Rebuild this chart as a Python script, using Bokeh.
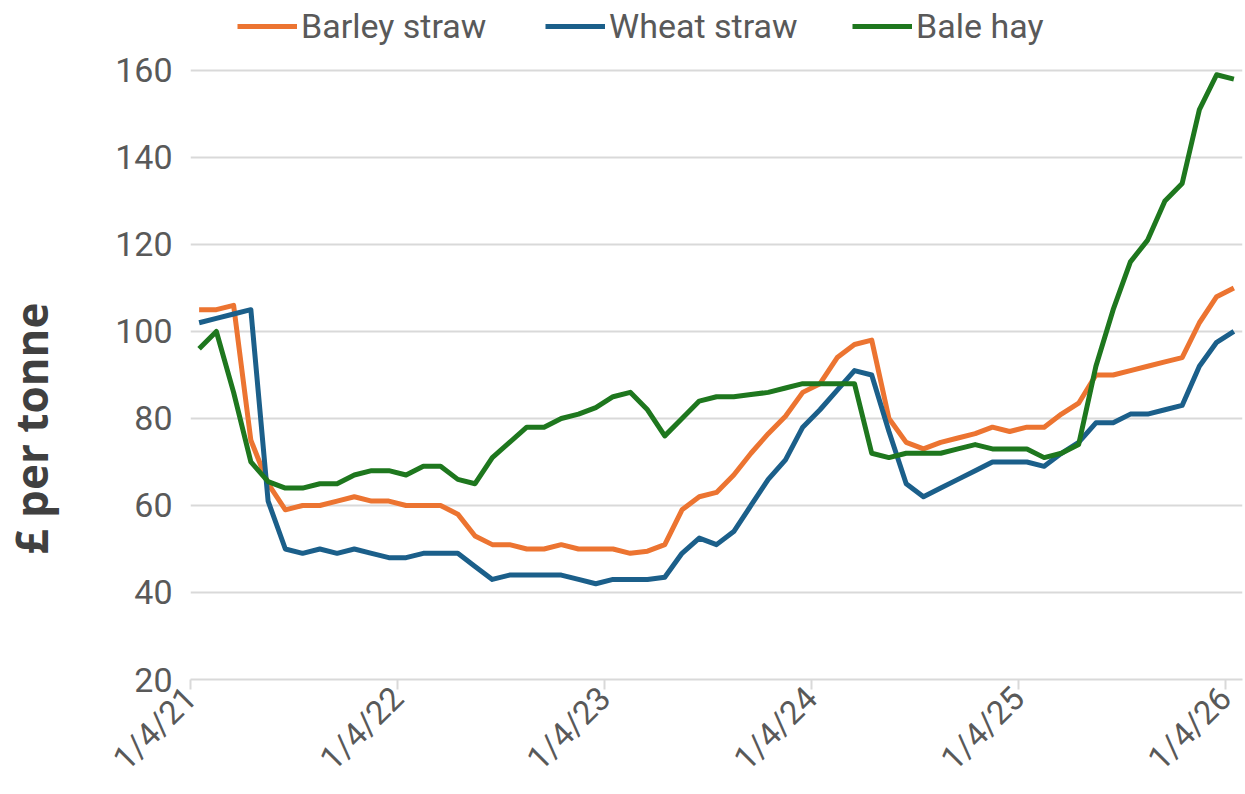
import math
from bokeh.plotting import figure
from bokeh.models import FixedTicker, Range1d, Legend, LegendItem, Title
from bokeh.embed import file_html
from bokeh.resources import INLINE

# Monthly observations, April 2021 .. April 2026
months = []
for yr in range(2021, 2027):
    for mo in range(1, 13):
        if (yr == 2021 and mo < 4) or (yr == 2026 and mo > 4):
            continue
        months.append(f"{yr}-{mo:02d}")

barley = [105, 105, 106, 75, 65, 59, 60, 60, 61, 62, 61, 61,
          60, 60, 60, 58, 53, 51, 51, 50, 50, 51, 50, 50,
          50, 49, 49.5, 51, 59, 62, 63, 67, 72, 76.5, 80.5, 86,
          88, 94, 97, 98, 80, 74.5, 73, 74.5, 75.5, 76.5, 78, 77,
          78, 78, 81, 83.5, 90, 90, 91, 92, 93, 94, 102, 108, 110]

wheat = [102, 103, 104, 105, 61, 50, 49, 50, 49, 50, 49, 48,
         48, 49, 49, 49, 46, 43, 44, 44, 44, 44, 43, 42,
         43, 43, 43, 43.5, 49, 52.5, 51, 54, 60, 66, 70.5, 78,
         82, 86.5, 91, 90, 77, 65, 62, 64, 66, 68, 70, 70,
         70, 69, 72, 74.5, 79, 79, 81, 81, 82, 83, 92, 97.5, 100]

hay = [96, 100, 86, 70, 65.5, 64, 64, 65, 65, 67, 68, 68,
       67, 69, 69, 66, 65, 71, 74.5, 78, 78, 80, 81, 82.5,
       85, 86, 82, 76, 80, 84, 85, 85, 85.5, 86, 87, 88,
       88, 88, 88, 72, 71, 72, 72, 72, 73, 74, 73, 73,
       73, 71, 72, 74, 92, 105, 116, 121, 130, 134, 151, 159, 158]

series_names = ["Barley straw", "Wheat straw", "Bale hay"]
series_colors = ["#EC7431", "#1B5F8A", "#1E771E"]

tick_months = [0, 12, 24, 36, 48, 60]
tick_labels = ["1/4/21", "1/4/22", "1/4/23", "1/4/24", "1/4/25", "1/4/26"]
y_ticks = [20, 40, 60, 80, 100, 120, 140, 160]

# x position: month index, centred within its month slot
x = [i + 0.5 for i in range(len(months))]

p = figure(width=1244, height=794,
           x_range=Range1d(0, len(months)), y_range=Range1d(20, 176.07),
           output_backend="svg", toolbar_location=None,
           min_border_left=0, min_border_right=2,
           min_border_top=0, min_border_bottom=114)
p.outline_line_color = None
p.background_fill_color = "white"
p.border_fill_color = "white"

p.xgrid.visible = False
p.ygrid.grid_line_color = "#D9D9D9"
p.ygrid.grid_line_width = 2

p.yaxis.ticker = FixedTicker(ticks=y_ticks)
p.yaxis.axis_line_color = None
p.yaxis.major_tick_line_color = None
p.yaxis.minor_tick_line_color = None
p.yaxis.major_label_text_font = "Roboto"
p.yaxis.major_label_text_font_size = "34px"
p.yaxis.major_label_text_color = "#595959"
p.yaxis.major_label_standoff = 12
# blank axis label used only as horizontal spacer before the title
p.yaxis.axis_label = " "
p.yaxis.axis_label_text_font_size = "10px"
p.yaxis.axis_label_standoff = 36

p.xaxis.ticker = FixedTicker(ticks=tick_months)
p.xaxis.major_label_overrides = {t: l for t, l in zip(tick_months, tick_labels)}
p.xaxis.axis_line_color = "#D9D9D9"
p.xaxis.axis_line_width = 2
p.xaxis.major_tick_line_color = "#D9D9D9"
p.xaxis.major_tick_line_width = 2
p.xaxis.major_tick_out = 10
p.xaxis.major_tick_in = 0
p.xaxis.minor_tick_line_color = None
p.xaxis.major_label_orientation = math.pi / 4
p.xaxis.major_label_text_font = "Roboto"
p.xaxis.major_label_text_font_size = "33px"
p.xaxis.major_label_text_color = "#595959"
p.xaxis.major_label_standoff = 3

renderers = []
for vals, col in zip([barley, wheat, hay], series_colors):
    r = p.line(x, vals, line_color=col, line_width=5, line_join="round")
    renderers.append(r)

legend_x = [47, 355, 662]
for name, r, lx in zip(series_names, renderers, legend_x):
    leg = Legend(items=[LegendItem(label=name, renderers=[r])],
                 location=(lx, 633), orientation="horizontal",
                 background_fill_alpha=0, border_line_color=None,
                 padding=0, margin=0, spacing=0,
                 glyph_width=60, glyph_height=36, label_height=36,
                 label_standoff=4, label_text_font="Roboto",
                 label_text_font_size="34px", label_text_color="#595959")
    p.add_layout(leg)

ytitle = Title(text="£ per tonne", align="left", vertical_align="top",
               offset=125, standoff=0,
               text_font="Open Sans", text_font_size="44px",
               text_font_style="bold", text_color="#404040")
p.add_layout(ytitle, "left")

open("out.html", "w").write(file_html(p, INLINE))
